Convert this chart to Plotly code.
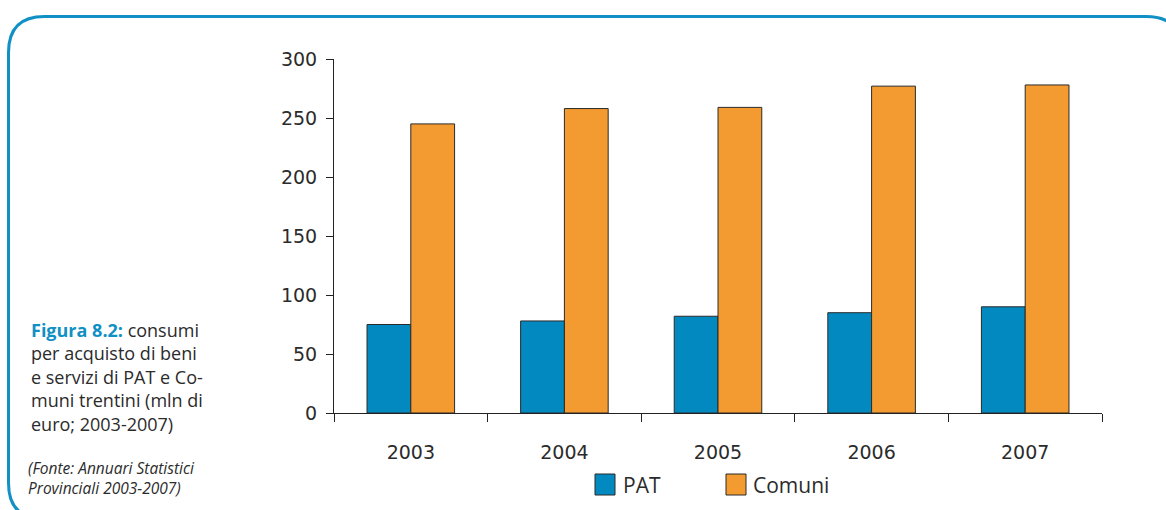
import plotly.graph_objects as go

years = ["2003", "2004", "2005", "2006", "2007"]
pat = [75, 78, 82, 85, 90]
comuni = [245, 258, 259, 277, 278]
y_ticks = [0, 50, 100, 150, 200, 250, 300]

caption_lines = [
    "<b><span style='color:#1190C5'>Figura 8.2:</span></b> consumi",
    "per acquisto di beni",
    "e servizi di PAT e Co-",
    "muni trentini (mln di",
    "euro; 2003-2007)",
]
source_lines = ["(Fonte: Annuari Statistici", "Provinciali 2003-2007)"]

W, H = 1166, 510
L, R, T, B = 334, 64, 59, 97
PW, PH = W - L - R, H - T - B

def px(x):
    return (x - L) / PW

def py(y):
    return (H - B - y) / PH

blue = "#0289C0"
orange = "#F39B30"
edge = "#2a2a2a"
frame = "#1190C5"
txt = "#2b2b2b"

fig = go.Figure()
fig.add_trace(go.Bar(x=years, y=pat, name="PAT", marker=dict(color=blue, line=dict(color=edge, width=1)), showlegend=False))
fig.add_trace(go.Bar(x=years, y=comuni, name="Comuni", marker=dict(color=orange, line=dict(color=edge, width=1)), showlegend=False))

shapes = []
r = 36
x0, y0, x1, y1 = 8.5, 16.5, 1182, 519
path = (f"M {px(x0)},{py(y1 - r)} L {px(x0)},{py(y0 + r)} "
        f"Q {px(x0)},{py(y0)} {px(x0 + r)},{py(y0)} "
        f"L {px(x1 - r)},{py(y0)} Q {px(x1)},{py(y0)} {px(x1)},{py(y0 + r)} "
        f"M {px(x0)},{py(y1 - r)} Q {px(x0)},{py(y1)} {px(x0 + r)},{py(y1)}")
shapes.append(dict(type="path", xref="paper", yref="paper", path=path,
                   line=dict(color=frame, width=3), layer="below"))

legend_items = [("PAT", blue, 595, 623), ("Comuni", orange, 726, 753)]
annotations = []
for name, col, sx, tx in legend_items:
    shapes.append(dict(type="rect", xref="paper", yref="paper",
                       x0=px(sx), x1=px(sx + 20), y0=py(474), y1=py(495),
                       fillcolor=col, line=dict(color=edge, width=1)))
    annotations.append(dict(xref="paper", yref="paper", x=px(tx - 2), y=py(485), text=name,
                            showarrow=False, xanchor="left", yanchor="middle",
                            font=dict(family="Open Sans", size=21, color=txt)))

annotations.append(dict(xref="paper", yref="paper", x=px(29), y=py(376.5),
                        xanchor="left", yanchor="middle", align="left", showarrow=False,
                        text="<br>".join(caption_lines),
                        font=dict(family="Open Sans", size=18, color=txt)))
annotations.append(dict(xref="paper", yref="paper", x=px(26), y=py(478),
                        xanchor="left", yanchor="middle", align="left", showarrow=False,
                        text="<i>" + "<br>".join(source_lines) + "</i>",
                        font=dict(family="Open Sans", size=15.5, color=txt)))

fig.update_layout(
    width=W, height=H,
    margin=dict(l=L, r=R, t=T, b=B, pad=0),
    paper_bgcolor="white", plot_bgcolor="white",
    bargap=0.43, bargroupgap=0, barmode="group",
    shapes=shapes, annotations=annotations,
    xaxis=dict(range=[-0.5, 4.5], showgrid=False, showline=True, linecolor="#222", linewidth=1,
               ticks="outside", tickson="boundaries", ticklen=8, tickcolor="#222",
               tickfont=dict(family="DejaVu Sans", size=19, color=txt), ticklabelstandoff=22),
    yaxis=dict(range=[0, 300], tickvals=y_ticks, showgrid=False, showline=True, linecolor="#222",
               linewidth=1, ticks="outside", ticklen=7, tickcolor="#222", zeroline=False,
               tickfont=dict(family="DejaVu Sans", size=19, color=txt), ticklabelstandoff=5),
)

fig.write_html("out.html", config={"displayModeBar": False},
               post_script="document.body.style.margin='0px';")
